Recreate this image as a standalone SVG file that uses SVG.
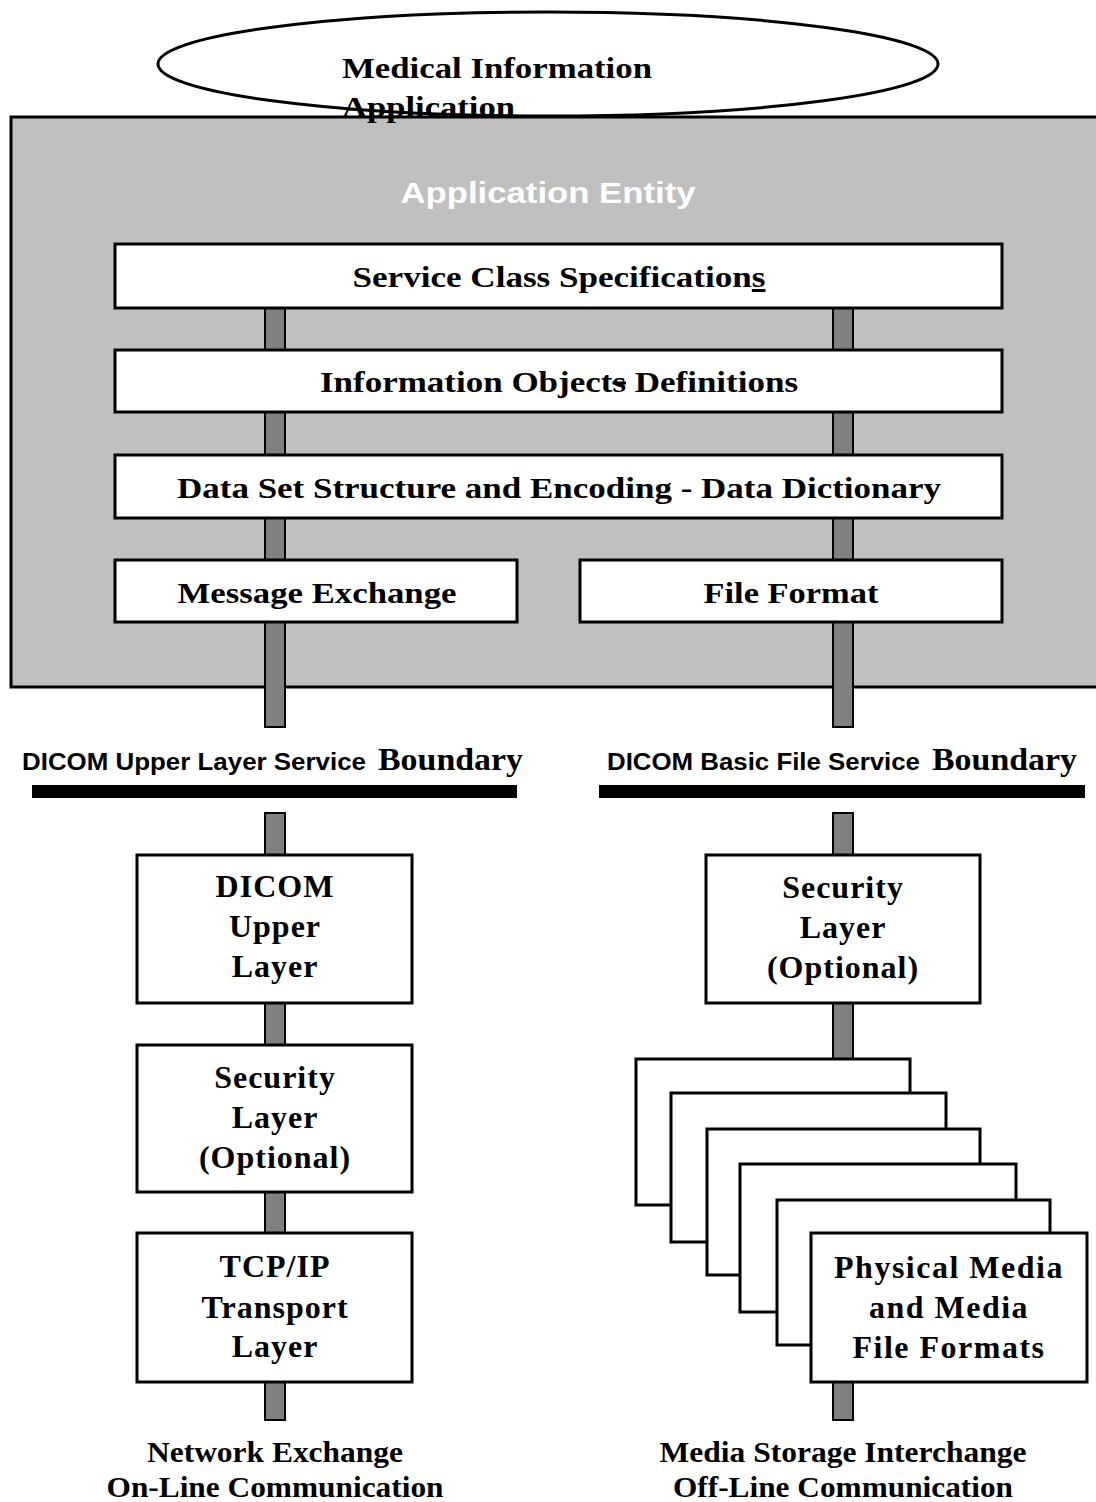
<svg xmlns="http://www.w3.org/2000/svg" width="1096" height="1502" viewBox="0 0 1096 1502">
<style>
.box{fill:#fff;stroke:#000;stroke-width:3}
.bar{fill:#808080;stroke:#000;stroke-width:2}
.t{font-family:"Liberation Serif","Times New Roman",serif;font-weight:bold;fill:#000}
.c{text-anchor:middle}
.s{font-family:"Liberation Sans",Arial,sans-serif;font-weight:bold;fill:#000}
</style>
<rect width="1096" height="1502" fill="#fff"/>
<g id="medical-information-application">
<ellipse cx="548" cy="64" rx="390" ry="52" fill="#fff" stroke="#000" stroke-width="3"/>
</g>
<g id="application-entity">
<rect x="11" y="117" width="1090" height="570" fill="#c0c0c0" stroke="#000" stroke-width="3"/>
<text x="548" y="203" class="s c" font-size="30" style="fill:#fff" textLength="295" lengthAdjust="spacingAndGlyphs">Application Entity</text>
</g>
<g id="connectors">
<rect class="bar" x="265" y="300" width="20" height="427"/>
<rect class="bar" x="833" y="300" width="20" height="427"/>
<rect class="bar" x="265" y="813" width="20" height="607"/>
<rect class="bar" x="833" y="813" width="20" height="607"/>
</g>
<g id="boundaries">
<rect x="32" y="785" width="485" height="13" fill="#000"/>
<rect x="599" y="785" width="486" height="13" fill="#000"/>
<text x="22" y="770" class="s" font-size="23" textLength="344" lengthAdjust="spacingAndGlyphs">DICOM Upper Layer Service</text>
<text x="378" y="770" class="t" font-size="32" textLength="145" lengthAdjust="spacingAndGlyphs">Boundary</text>
<text x="607" y="770" class="s" font-size="23" textLength="313" lengthAdjust="spacingAndGlyphs">DICOM Basic File Service</text>
<text x="932" y="770" class="t" font-size="32" textLength="145" lengthAdjust="spacingAndGlyphs">Boundary</text>
</g>
<g id="service-class-specifications">
<rect class="box" x="115" y="244" width="887" height="64"/>
<text x="559" y="287" class="t c" font-size="30" textLength="413" lengthAdjust="spacingAndGlyphs">Service Class Specification<tspan text-decoration="underline">s</tspan></text>
</g>
<g id="information-objects-definitions">
<rect class="box" x="115" y="350" width="887" height="62"/>
<text x="559" y="392" class="t c" font-size="30" textLength="478" lengthAdjust="spacingAndGlyphs">Information Object<tspan text-decoration="line-through">s</tspan> Definitions</text>
</g>
<g id="data-set-structure">
<rect class="box" x="115" y="455" width="887" height="63"/>
<text x="559" y="498" class="t c" font-size="30" textLength="764" lengthAdjust="spacingAndGlyphs">Data Set Structure and Encoding - Data Dictionary</text>
</g>
<g id="message-exchange">
<rect class="box" x="115" y="560" width="402" height="62"/>
<text x="317" y="603" class="t c" font-size="30" textLength="279" lengthAdjust="spacingAndGlyphs">Message Exchange</text>
</g>
<g id="file-format">
<rect class="box" x="580" y="560" width="422" height="62"/>
<text x="791" y="603" class="t c" font-size="30" textLength="175" lengthAdjust="spacingAndGlyphs">File Format</text>
</g>
<g id="dicom-upper-layer">
<rect class="box" x="137" y="855" width="275" height="148"/>
<text class="t c" font-size="32" letter-spacing="1"><tspan x="275" y="897">DICOM</tspan><tspan x="275" y="937">Upper</tspan><tspan x="275" y="977">Layer</tspan></text>
</g>
<g id="security-layer-left">
<rect class="box" x="137" y="1045" width="275" height="147"/>
<text class="t c" font-size="32" letter-spacing="1"><tspan x="275" y="1088">Security</tspan><tspan x="275" y="1128">Layer</tspan><tspan x="275" y="1168">(Optional)</tspan></text>
</g>
<g id="tcpip-transport-layer">
<rect class="box" x="137" y="1233" width="275" height="149"/>
<text class="t c" font-size="32" letter-spacing="1"><tspan x="275" y="1277">TCP/IP</tspan><tspan x="275" y="1318">Transport</tspan><tspan x="275" y="1357">Layer</tspan></text>
</g>
<g id="security-layer-right">
<rect class="box" x="706" y="855" width="274" height="148"/>
<text class="t c" font-size="32" letter-spacing="1"><tspan x="843" y="898">Security</tspan><tspan x="843" y="938">Layer</tspan><tspan x="843" y="978">(Optional)</tspan></text>
</g>
<g id="physical-media">
<rect class="box" x="636" y="1059" width="274" height="146"/>
<rect class="box" x="671" y="1093" width="275" height="149"/>
<rect class="box" x="707" y="1129" width="273" height="146"/>
<rect class="box" x="740" y="1164" width="276" height="148"/>
<rect class="box" x="777" y="1200" width="273" height="145"/>
<rect class="box" x="811" y="1233" width="276" height="149"/>
<text class="t c" font-size="32" letter-spacing="1.5"><tspan x="949" y="1278">Physical Media</tspan><tspan x="949" y="1318">and Media</tspan><tspan x="949" y="1358">File Formats</tspan></text>
</g>
<g id="network-exchange">
<text x="275" y="1462" class="t c" font-size="29" textLength="256" lengthAdjust="spacingAndGlyphs">Network Exchange</text>
<text x="275" y="1497" class="t c" font-size="29" textLength="337" lengthAdjust="spacingAndGlyphs">On-Line Communication</text>
</g>
<g id="media-storage-interchange">
<text x="843" y="1462" class="t c" font-size="29" textLength="367" lengthAdjust="spacingAndGlyphs">Media Storage Interchange</text>
<text x="843" y="1497" class="t c" font-size="29" textLength="340" lengthAdjust="spacingAndGlyphs">Off-Line Communication</text>
</g>
<g id="medical-information-application-label">
<text x="342" y="78" class="t" font-size="30" textLength="310" lengthAdjust="spacingAndGlyphs">Medical Information</text>
<text x="342" y="117" class="t" font-size="30" textLength="173" lengthAdjust="spacingAndGlyphs">Application</text>
</g>
</svg>
